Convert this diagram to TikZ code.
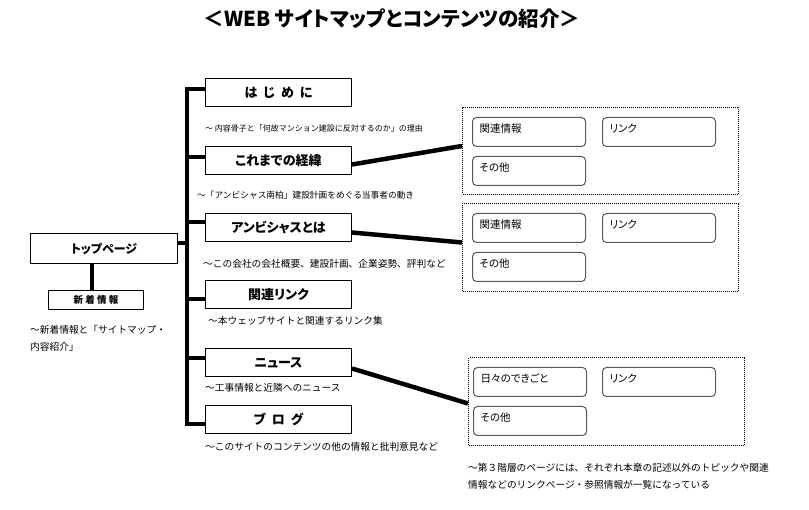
\documentclass[tikz,border=0pt]{standalone}
\usepackage{fontspec}
\setmainfont{Noto Sans CJK JP}
\newfontfamily\jpp{Noto Sans CJK JP}[RawFeature=+palt]
\begin{document}
\begin{tikzpicture}[x=1pt,y=-1pt,
  lvtwo/.style={draw, line width=1pt, minimum width=146pt, minimum height=28pt, inner sep=0pt, anchor=north west, font=\jpp\fontsize{13}{13}\selectfont\bfseries},
  subbox/.style={draw=black!65, rounded corners=4pt, line width=1pt, minimum width=113pt, minimum height=29pt, inner xsep=7pt, text width=99pt, align=left, text height=8pt, text depth=7pt, anchor=north west, font=\jpp\fontsize{10.5}{11}\selectfont},
  grp/.style={draw, densely dotted, line width=1pt, anchor=north west, inner sep=0pt},
  thk/.style={line width=4.5pt},
  captxt/.style={anchor=west, inner sep=0pt, font=\fontsize{9.7}{10}\selectfont}]
\useasboundingbox (0,0) rectangle (809,510);
% title
\node[font=\jpp\fontsize{20.5}{21}\selectfont\bfseries] (title) at (392,19) {＜WEB サイトマップとコンテンツの紹介＞};
% top page
\node[draw, line width=1pt, minimum width=147pt, minimum height=30pt, inner sep=0pt, anchor=north west, font=\jpp\fontsize{12}{12}\selectfont\bfseries] (top) at (30,233) {トップページ};
\node[draw, line width=1pt, minimum width=95pt, minimum height=19pt, inner sep=0pt, anchor=north west, font=\jpp\fontsize{9.5}{10}\selectfont\bfseries] (news0) at (48,290) {新 着 情 報};
\node[captxt] (capn1) at (30,330) {〜新着情報と「サイトマップ・};
\node[captxt] (capn2) at (30,347) {内容紹介」};
% level two
\node[lvtwo] (hj) at (205,78) {は\ \ じ\ \ め\ \ に};
\node[lvtwo] (kr) at (205,146) {これまでの経緯};
\node[lvtwo] (ab) at (205,213) {アンビシャスとは};
\node[lvtwo] (kl) at (205,280) {関連リンク};
\node[lvtwo] (ns) at (205,348) {ニュース};
\node[lvtwo] (bl) at (205,405) {ブ\ \ ロ\ \ グ};
\node[captxt, font=\fontsize{8}{9}\selectfont] (c1) at (205,128) {〜 内容骨子と「何故マンション建設に反対するのか」の理由};
\node[captxt, font=\fontsize{8.7}{9}\selectfont] (c2) at (197,195) {〜「アンビシャス南柏」建設計画をめぐる当事者の動き};
\node[captxt] (c3) at (203,264) {〜この会社の会社概要、建設計画、企業姿勢、評判など};
\node[captxt] (c4) at (208,321) {〜本ウェッブサイトと関連するリンク集};
\node[captxt] (c5) at (205,388) {〜工事情報と近隣へのニュース};
\node[captxt] (c6) at (205,447) {〜このサイトのコンテンツの他の情報と批判意見など};
% spine
\coordinate (sTop) at (187,89);
\coordinate (sBot) at (187,424);
\coordinate (jkr) at (187,157);
\coordinate (jab) at (187,222);
\coordinate (jtop) at (187,243);
\coordinate (jkl) at (187,299);
\coordinate (jns) at (187,358);
\coordinate (vx) at (92,0);
\draw[thk, line join=miter] (hj.west |- sTop) -- (sTop) -- (sBot) -- (bl.west |- sBot);
\draw[thk] (jkr) -- (kr.west |- jkr);
\draw[thk] (jab) -- (ab.west |- jab);
\draw[thk] (jkl) -- (kl.west |- jkl);
\draw[thk] (jns) -- (ns.west |- jns);
\draw[thk] (top.east |- jtop) -- (jtop);
\draw[thk] (vx |- top.south) -- (vx |- news0.north);
% groups
\node[grp, minimum width=276pt, minimum height=87pt] (g1) at (462,107) {};
\node[grp, minimum width=276pt, minimum height=88pt] (g2) at (462,203) {};
\node[grp, minimum width=276pt, minimum height=88pt] (g3) at (468,357) {};
\node[subbox] (g1a) at (472,117) {関連情報};
\node[subbox] (g1b) at (602,117) {リンク};
\node[subbox] (g1c) at (472,156) {その他};
\node[subbox] (g2a) at (472,213) {関連情報};
\node[subbox] (g2b) at (602,213) {リンク};
\node[subbox] (g2c) at (472,252) {その他};
\node[subbox] (g3a) at (473,367) {日々のできごと};
\node[subbox] (g3b) at (602,367) {リンク};
\node[subbox] (g3c) at (473,406) {その他};
% connectors
\draw[thk] ([yshift=-4pt]kr.east) -- ([yshift=5pt]g1.west);
\draw[thk] ([yshift=-5pt]ab.east) -- ([yshift=5pt]g2.west);
\draw[thk] ([yshift=-6pt]ns.east) -- ([yshift=-2pt]g3.west);
\node[captxt] (c7) at (468,468) {〜第３階層のページには、それぞれ本章の記述以外のトピックや関連};
\node[captxt] (c8) at (468,485) {情報などのリンクページ・参照情報が一覧になっている};
\end{tikzpicture}
\end{document}
